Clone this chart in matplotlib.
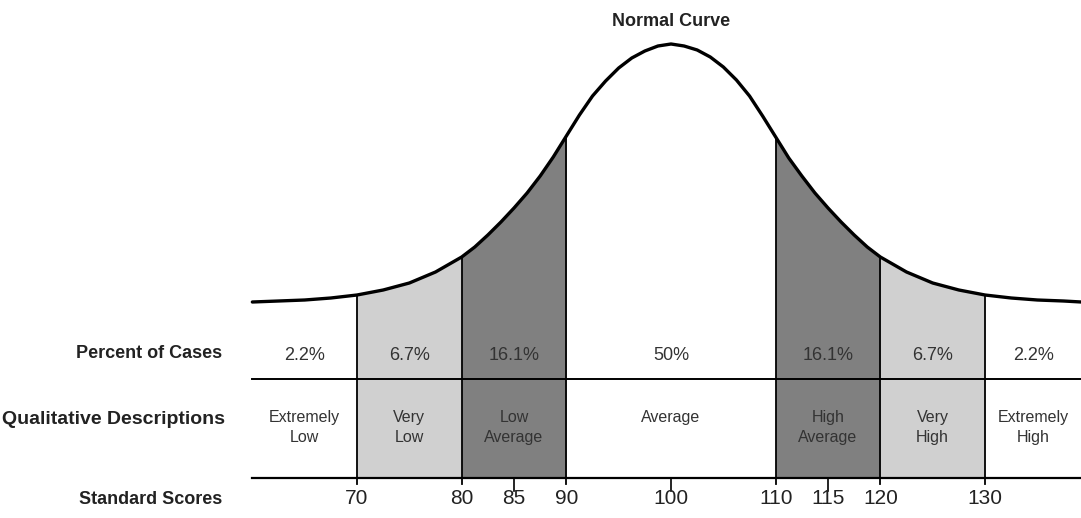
import numpy as np
import matplotlib.pyplot as plt

# curve: score -> height above the bottom rule
curve_scores = [60, 62.5, 65, 67.5, 70, 72.5, 75, 77.5, 80, 81.25, 82.5, 83.75,
                85, 86.25, 87.5, 88.75, 90, 91.25, 92.5, 93.75, 95, 96.25, 97.5,
                98.75, 100, 101.25, 102.5, 103.75, 105, 106.25, 107.5, 108.75,
                110, 111.25, 112.5, 113.75, 115, 116.25, 117.5, 118.75, 120,
                122.5, 125, 127.5, 130, 132.5, 135, 137.5, 139.2]
curve_height = [176, 177, 178, 180, 183, 188, 195, 206, 221, 231, 243, 256,
                270, 285, 302, 321, 342, 363, 382, 397, 410, 420, 427,
                432, 434, 432, 428, 421, 411, 398, 382, 362,
                341, 320, 302, 285, 270, 256, 243, 231, 221,
                206, 195, 188, 183, 180, 178, 177, 176]

band_edges = [60, 70, 80, 90, 110, 120, 130, 139.2]
pct_labels = ["2.2%", "6.7%", "16.1%", "50%", "16.1%", "6.7%", "2.2%"]
desc_labels = ["Extremely\nLow", "Very\nLow", "Low\nAverage", "Average",
               "High\nAverage", "Very\nHigh", "Extremely\nHigh"]
band_colors = ["white", "#d0d0d0", "#808080", "white", "#808080", "#d0d0d0", "white"]
tick_scores = [70, 80, 85, 90, 100, 110, 115, 120, 130]

row_split = 99  # divider between percent row and description row

font = ["Liberation Sans", "DejaVu Sans"]

fig = plt.figure(figsize=(10.81, 5.18), dpi=100)
ax = fig.add_axes([0, 0, 1, 1])
ax.set_xlim(35.89, 139.17)
ax.set_ylim(-40, 478)
ax.axis("off")

x = np.array(curve_scores)
h = np.array(curve_height)

# shaded bands under the curve
for i, c in enumerate(band_colors):
    lo, hi = band_edges[i], band_edges[i + 1]
    m = (x >= lo) & (x <= hi)
    ax.fill_between(x[m], 0, h[m], color=c, lw=0, zorder=1)

ax.plot(x, h, color="black", lw=2.4, solid_joinstyle="round",
        solid_capstyle="round", zorder=4)

# horizontal rules
ax.plot([60, 139.2], [row_split, row_split], color="black", lw=1.4, zorder=3)
ax.plot([60, 139.2], [0, 0], color="black", lw=1.6, zorder=3)

# vertical band borders
for e in band_edges[1:-1]:
    top = h[x == e][0]
    ax.plot([e, e], [-6, top], color="black", lw=1.3, zorder=3)

# short ticks and score labels
for s in tick_scores:
    if s not in band_edges:
        ax.plot([s, s], [-13, 0], color="black", lw=1.2, zorder=3)
    ax.text(s, -21, str(s), ha="center", va="center", fontsize=15,
            family=font, color="#222222")

for i in range(len(pct_labels)):
    cx = (band_edges[i] + band_edges[i + 1]) / 2
    ax.text(cx, 123, pct_labels[i], ha="center", va="center", fontsize=13,
            family=font, color="#333333", zorder=5)
    ax.text(cx, 68, desc_labels[i], ha="center", va="top", fontsize=11.5,
            family=font, color="#333333", linespacing=1.4, zorder=5)

ax.text(57.1, 124, "Percent of Cases", ha="right", va="center", fontsize=13,
        family=font, weight="bold", color="#222222")
ax.text(57.4, 58, "Qualitative Descriptions", ha="right", va="center",
        fontsize=14, family=font, weight="bold", color="#222222")
ax.text(57.1, -22, "Standard Scores", ha="right", va="center", fontsize=13,
        family=font, weight="bold", color="#222222")
ax.text(100, 457, "Normal Curve", ha="center", va="center", fontsize=13,
        family=font, weight="bold", color="#222222")

fig.savefig("out.png", dpi=100)
